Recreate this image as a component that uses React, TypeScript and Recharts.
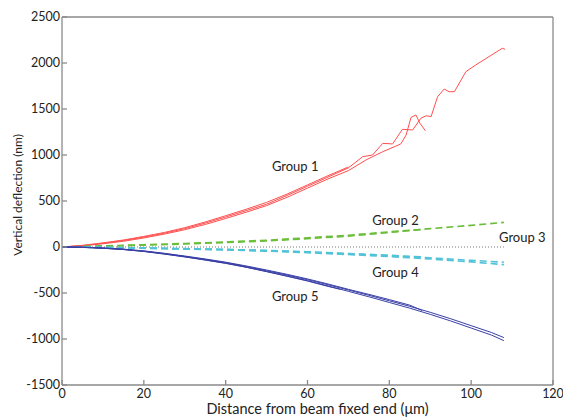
import React from 'react';
import {
  LineChart,
  Line,
  XAxis,
  YAxis,
  ReferenceDot,
} from 'recharts';

// each strand: [distance (µm), deflection (nm)]
type Pt = [number, number];

const xTicks = [0, 20, 40, 60, 80, 100, 120];
const yTicks = [-1500, -1000, -500, 0, 500, 1000, 1500, 2000, 2500];

const group1a: Pt[] = [
  [0, 0], [5, 15], [10, 40], [15, 70], [20, 108], [25, 150], [30, 200], [35, 260],
  [40, 326], [45, 395], [50, 465], [55, 560], [60, 660], [65, 760], [70, 860],
  [73.5, 982], [75.9, 1000], [78.4, 1127], [80.8, 1120], [83.2, 1279], [85.7, 1272],
  [87.7, 1399], [89, 1427], [90.2, 1417], [91.8, 1634], [93.4, 1717], [94.6, 1688],
  [95.9, 1688], [98.7, 1906], [101.1, 1978], [107.6, 2160], [108.3, 2149],
];
const group1b: Pt[] = [
  [0, 0], [5, 12], [10, 35], [15, 62], [20, 98], [25, 140], [30, 188], [35, 245],
  [40, 310], [45, 378], [50, 450], [55, 540], [60, 640], [65, 740], [70, 830],
  [74.3, 946], [78.4, 1036], [82.8, 1120], [84.1, 1217], [85.3, 1409], [86.5, 1435],
  [87.5, 1344], [88.8, 1264],
];
const group1c: Pt[] = [
  [0, 0], [5, 18], [10, 45], [15, 76], [20, 115], [25, 158], [30, 210], [35, 272],
  [40, 340], [45, 410], [50, 485], [55, 575], [60, 675], [65, 775], [70, 870],
];

const group2a: Pt[] = [
  [0, 0], [10, 8], [20, 20], [30, 33], [40, 48], [50, 66], [60, 90], [70, 118],
  [80, 158], [90, 200], [100, 235], [108, 268],
];
const group2b: Pt[] = [
  [0, 0], [10, 12], [20, 25], [30, 38], [40, 55], [50, 74], [60, 100], [70, 128],
  [80, 165], [88, 190],
];

const group3: Pt[] = [[0, 0], [108, 0]];

const group4a: Pt[] = [
  [0, 0], [10, -5], [20, -12], [30, -20], [40, -28], [50, -40], [60, -56], [70, -75],
  [80, -95], [90, -118], [100, -145], [108, -165],
];
const group4b: Pt[] = [
  [0, 0], [10, -6], [20, -14], [30, -23], [40, -32], [50, -45], [60, -62], [70, -82],
  [80, -104], [90, -130], [100, -162], [108, -192],
];
const group4c: Pt[] = [
  [0, 0], [10, -4], [20, -10], [30, -18], [40, -26], [50, -37], [60, -52], [70, -70],
  [80, -90], [88, -108],
];

const group5a: Pt[] = [
  [0, 0], [5, -3], [10, -12], [15, -25], [20, -45], [25, -72], [30, -102], [35, -135],
  [40, -170], [45, -212], [50, -258], [55, -305], [60, -355], [65, -410], [70, -468],
  [75, -525], [80, -585], [85, -645], [90, -710], [95, -780], [100, -855], [105, -930],
  [108, -985],
];
const group5b: Pt[] = [
  [0, 0], [5, -4], [10, -13], [15, -27], [20, -47], [25, -75], [30, -106], [35, -140],
  [40, -176], [45, -219], [50, -266], [55, -315], [60, -366], [65, -423], [70, -482],
  [75, -541], [80, -603], [85, -665], [90, -732], [95, -804], [100, -881], [105, -958],
  [108, -1018],
];
const group5c: Pt[] = [
  [0, 0], [5, -2], [10, -10], [15, -23], [20, -42], [25, -68], [30, -98], [35, -130],
  [40, -165], [45, -206], [50, -250], [55, -297], [60, -347], [65, -402], [70, -460],
  [75, -515], [80, -572], [85, -632], [88, -690],
];
const group5d: Pt[] = [
  [0, 0], [5, -3], [10, -14], [15, -28], [20, -49], [25, -77], [30, -108], [35, -142],
  [40, -178], [45, -220], [50, -268], [55, -318], [60, -370], [65, -428], [68, -460],
];

const groupLabels = ['Group 1', 'Group 2', 'Group 3', 'Group 4', 'Group 5'];
const labelX = [57, 81.5, 112.5, 81.5, 57];
const labelY = [875, 285, 105, -275, -535];

const RED = '#FF4F4F';
const GREEN = '#6BBE3A';
const CYAN = '#50C3D8';
const BLUE = '#3A3FA6';
const AXIS = '#8A8A8A';
const FONT = 'Lato, "Open Sans", sans-serif';

const toRows = (pts: Pt[]) => pts.map(([x, y]) => ({ x, y }));

const series = [
  { id: 'g1a', pts: group1a, color: RED, width: 1, dash: undefined },
  { id: 'g1b', pts: group1b, color: RED, width: 1, dash: undefined },
  { id: 'g1c', pts: group1c, color: RED, width: 1, dash: undefined },
  { id: 'g2a', pts: group2a, color: GREEN, width: 1.6, dash: '7 4' },
  { id: 'g2b', pts: group2b, color: GREEN, width: 1.6, dash: '7 4' },
  { id: 'g3', pts: group3, color: '#777', width: 1, dash: '1 2' },
  { id: 'g4a', pts: group4a, color: CYAN, width: 1.6, dash: '7 4' },
  { id: 'g4b', pts: group4b, color: CYAN, width: 1.6, dash: '7 4' },
  { id: 'g4c', pts: group4c, color: CYAN, width: 1.6, dash: '7 4' },
  { id: 'g5a', pts: group5a, color: BLUE, width: 1, dash: undefined },
  { id: 'g5b', pts: group5b, color: BLUE, width: 1, dash: undefined },
  { id: 'g5c', pts: group5c, color: BLUE, width: 1, dash: undefined },
  { id: 'g5d', pts: group5d, color: BLUE, width: 1, dash: undefined },
];

const tickStyle = { fill: '#222', fontSize: 12.5, fontFamily: FONT };

export default function App() {
  return (
    <div style={{ position: 'absolute', left: 0, top: 0, background: '#fff' }}>
      <LineChart width={563} height={417} margin={{ top: 16, right: 9, bottom: 0, left: 10 }}>
        <XAxis
          xAxisId="b"
          type="number"
          dataKey="x"
          domain={[0, 120]}
          ticks={xTicks}
          height={32}
          stroke={AXIS}
          strokeWidth={1.3}
          tickSize={-5}
          tickMargin={9}
          tick={tickStyle}
          allowDataOverflow
          label={{
            content: (props: any) => {
              const vb = props.viewBox;
              return (
                <text x={vb.x + vb.width / 2 + 10} y={vb.y + vb.height - 3} textAnchor="middle"
                  fill="#222" fontSize={14.5} fontFamily={FONT}>
                  Distance from beam fixed end (μm)
                </text>
              );
            },
          }}
        />
        <XAxis
          xAxisId="t"
          orientation="top"
          type="number"
          domain={[0, 120]}
          ticks={xTicks}
          height={1}
          stroke={AXIS}
          strokeWidth={1.3}
          tickSize={-5}
          tickFormatter={() => ''}
        />
        <YAxis
          yAxisId="l"
          type="number"
          domain={[-1500, 2500]}
          ticks={yTicks}
          width={52}
          stroke={AXIS}
          strokeWidth={1.3}
          tickSize={-5}
          tickMargin={7}
          tick={tickStyle}
          allowDataOverflow
          label={{
            content: (props: any) => {
              const vb = props.viewBox;
              const cx = vb.x + 7;
              const cy = vb.y + vb.height / 2 - 6;
              return (
                <text x={cx} y={cy} transform={`rotate(-90 ${cx} ${cy})`} textAnchor="middle"
                  dominantBaseline="central" fill="#222" fontSize={12} fontFamily={FONT}>
                  Vertical deflection (nm)
                </text>
              );
            },
          }}
        />
        <YAxis
          yAxisId="r"
          orientation="right"
          type="number"
          domain={[-1500, 2500]}
          ticks={yTicks}
          width={1}
          stroke={AXIS}
          strokeWidth={1.3}
          tickSize={-5}
          tickFormatter={() => ''}
        />
        {series.map((s) => (
          <Line
            key={s.id}
            xAxisId="b"
            yAxisId="l"
            data={toRows(s.pts)}
            dataKey="y"
            type="linear"
            stroke={s.color}
            strokeWidth={s.width}
            strokeDasharray={s.dash}
            dot={false}
            activeDot={false}
            isAnimationActive={false}
          />
        ))}
        {groupLabels.map((name, i) => (
          <ReferenceDot
            key={name}
            xAxisId="b"
            yAxisId="l"
            x={labelX[i]}
            y={labelY[i]}
            r={0}
            stroke="none"
            fill="none"
            label={{ value: name, position: 'center', fill: '#222', fontSize: 13, fontFamily: FONT }}
          />
        ))}
      </LineChart>
    </div>
  );
}
